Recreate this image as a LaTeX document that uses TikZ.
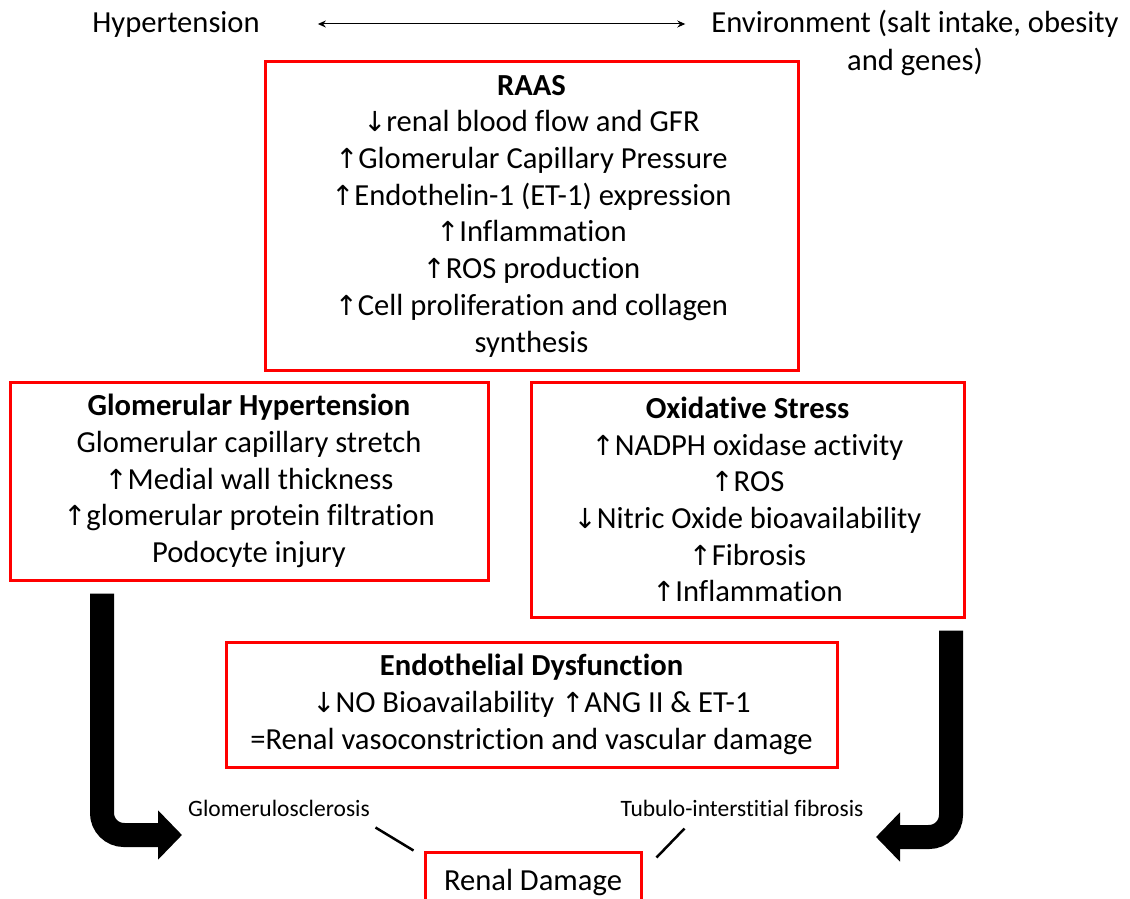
\documentclass[tikz,border=0pt]{standalone}
\usepackage{fontspec}
\setmainfont{Carlito}[Ligatures=NoCommon]
\newfontfamily\symfont{DejaVu Sans}
\newcommand\upar{{\symfont\scalebox{0.9}{↑}}}
\newcommand\dnar{{\symfont\scalebox{0.9}{↓}}}
\usetikzlibrary{arrows.meta,positioning}

\begin{document}
\begin{tikzpicture}[x=1pt,y=-1pt,
    box/.style={draw=red,line width=3pt,align=center,inner sep=0pt,
      font=\fontsize{30.6}{36.7}\selectfont},
    plain/.style={align=center,inner sep=0pt,font=\fontsize{30.6}{38}\selectfont},
    small/.style={inner sep=0pt,font=\fontsize{23.5}{26}\selectfont},
    bigarrow/.style={line width=24pt,rounded corners=22pt,
      -{Triangle[length=24pt,width=48pt]}},
    tick/.style={line width=2.5pt}]
    \useasboundingbox (0,0) rectangle (1130,899);
    % top line
    \node[plain] (hyp) at (176,24) {Hypertension};
    \node[plain] (env) at (915,43) {Environment (salt intake, obesity\\and genes)};
    \draw[{Stealth[length=8pt,width=7pt]}-{Stealth[length=8pt,width=7pt]},line width=1pt]
      ([xshift=58pt]hyp.east) -- ([xshift=-26pt]hyp.east -| env.west);
    % boxes
    \node[box,minimum width=533pt,minimum height=308pt] (raas) at (531.5,216)
      {\textbf{RAAS}\\\dnar renal blood flow and GFR\\\upar Glomerular Capillary Pressure\\
       \upar Endothelin-1 (ET-1) expression\\\upar Inflammation\\\upar ROS production\\
       \upar Cell proliferation and collagen\\synthesis};
    \node[box,minimum width=478pt,minimum height=198pt] (glom) at (249,481)
      {\textbf{Glomerular Hypertension}\\Glomerular capillary stretch\\\upar Medial wall thickness\\
       \upar glomerular protein filtration\\Podocyte injury};
    \node[box,minimum width=433pt,minimum height=235pt] (oxid) at (747.5,499.5)
      {\textbf{Oxidative Stress}\\\upar NADPH oxidase activity\\\upar ROS\\
       \dnar Nitric Oxide bioavailability\\\upar Fibrosis\\\upar Inflammation};
    \node[box,minimum width=611pt,minimum height=125pt] (endo) at (531.5,704.5)
      {\textbf{Endothelial Dysfunction}\\\dnar NO Bioavailability \upar ANG II \& ET-1\\
       =Renal vasoconstriction and vascular damage};
    \node[box,minimum width=216pt,minimum height=60pt] (renal) at (533,882) {Renal Damage};
    % labels
    \node[small] (gs) at (279,808) {Glomerulosclerosis};
    \node[small] (tf) at (742,808) {Tubulo-interstitial fibrosis};
    \draw[tick] ([xshift=-48pt,yshift=23pt]renal.north west) -- ([xshift=-10pt]renal.north west);
    \draw[tick] ([xshift=42pt,yshift=22pt]renal.north east) -- ([xshift=14pt,yshift=-7pt]renal.north east);
    % big arrows
    \coordinate (gl) at (102,835);
    \coordinate (gr) at (951,837);
    \draw[bigarrow] ([yshift=-12pt]glom.south -| gl) -- (gl) -- ++(80,0);
    \draw[bigarrow] ([yshift=-12pt]oxid.south -| gr) -- (gr) -- ++(-75,0);
\end{tikzpicture}
\end{document}
